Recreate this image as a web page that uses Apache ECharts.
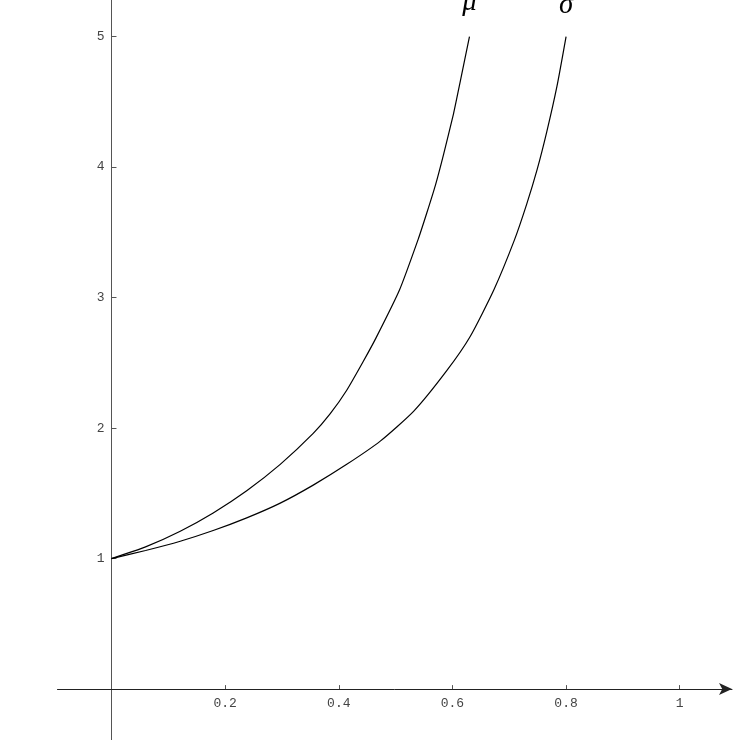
<!DOCTYPE html>
<html>
<head>
<meta charset="utf-8">
<script src="https://cdn.jsdelivr.net/npm/echarts@6/dist/echarts.min.js"></script>
<style>
html,body{margin:0;padding:0;background:#fff;}
#chart{width:738px;height:740px;}
</style>
</head>
<body>
<div id="chart"></div>
<script>
// Data
const muX = [0, 0.06, 0.121, 0.179, 0.238, 0.297, 0.355, 0.385, 0.414, 0.443, 0.466, 0.507, 0.540, 0.555, 0.570, 0.584, 0.602, 0.614, 0.630];
const muY = [1, 1.09, 1.21, 1.35, 1.52, 1.722, 1.959, 2.11, 2.29, 2.51, 2.695, 3.06, 3.45, 3.65, 3.86, 4.09, 4.41, 4.66, 5.0];
const sigmaX = [0, 0.06, 0.121, 0.179, 0.238, 0.297, 0.355, 0.414, 0.473, 0.532, 0.590, 0.631, 0.673, 0.709, 0.731, 0.749, 0.766, 0.784, 0.800];
const sigmaY = [1, 1.062, 1.133, 1.215, 1.312, 1.425, 1.563, 1.722, 1.90, 2.13, 2.44, 2.70, 3.06, 3.44, 3.72, 3.98, 4.27, 4.62, 5.0];
const xTicks = [0.2, 0.4, 0.6, 0.8, 1];
const xTickLabels = ['0.2', '0.4', '0.6', '0.8', '1'];
const yTicks = [1, 2, 3, 4, 5];
const yTickLabels = ['1', '2', '3', '4', '5'];
const seriesNames = ['μ', 'σ'];

function buildData(xs, ys, name, dist) {
  return xs.map((x, i) => {
    if (i === xs.length - 1) {
      return {
        value: [x, ys[i]],
        label: {
          show: true, position: 'top', distance: dist, formatter: name,
          fontFamily: 'Liberation Serif', fontStyle: 'italic', fontSize: 29,
          lineHeight: 29, color: '#000'
        }
      };
    }
    return [x, ys[i]];
  });
}

const axisFont = {fontFamily: 'Liberation Mono', fontSize: 13, color: '#444'};

const chart = echarts.init(document.getElementById('chart'), null, {renderer: 'canvas'});
chart.setOption({
  animation: false,
  backgroundColor: '#fff',
  grid: {left: 57.5, right: 6, top: 0, bottom: 0, containLabel: false},
  xAxis: {
    type: 'value', min: -0.095, max: 1.092,
    splitLine: {show: false},
    axisLine: {show: true, onZero: true, lineStyle: {color: '#222', width: 1},
      symbol: ['none', 'arrow'], symbolSize: [9, 13]},
    axisTick: {show: true, inside: true, length: 4, customValues: xTicks, lineStyle: {color: '#555'}},
    axisLabel: Object.assign({show: true, margin: -43, customValues: xTicks,
      formatter: v => xTickLabels[xTicks.findIndex(t => Math.abs(t - v) < 1e-9)] || ''}, axisFont)
  },
  yAxis: {
    type: 'value', min: -0.39, max: 5.28,
    splitLine: {show: false},
    axisLine: {show: true, onZero: true, lineStyle: {color: '#555', width: 1}},
    axisTick: {show: true, inside: true, length: 5, customValues: yTicks, lineStyle: {color: '#555'}},
    axisLabel: Object.assign({show: true, margin: -47, customValues: yTicks,
      formatter: v => yTickLabels[yTicks.findIndex(t => Math.abs(t - v) < 1e-9)] || ''}, axisFont)
  },
  series: [
    {
      name: seriesNames[0], type: 'line', showSymbol: true, symbol: 'circle', symbolSize: 0,
      smooth: 0.2,
      lineStyle: {color: '#000', width: 1.2},
      data: buildData(muX, muY, seriesNames[0], 20)
    },
    {
      name: seriesNames[1], type: 'line', showSymbol: true, symbol: 'circle', symbolSize: 0,
      smooth: 0.2,
      lineStyle: {color: '#000', width: 1.2},
      data: buildData(sigmaX, sigmaY, seriesNames[1], 17)
    }
  ]
});
</script>
</body>
</html>
